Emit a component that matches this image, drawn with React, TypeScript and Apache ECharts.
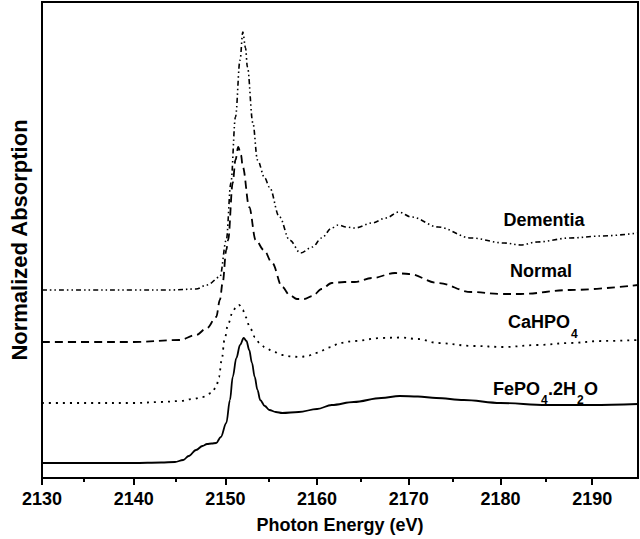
import React, { useEffect, useRef } from "react";
import * as echarts from "echarts";

// Photon energy (eV) / normalized absorption (stacked offsets)
const dementia: [number, number][] = [
  [2130, 1.88], [2135, 1.88], [2140, 1.88], [2144, 1.88], [2146.8, 1.89], [2148, 1.93],
  [2149.4, 2.01], [2150.1, 2.38], [2150.6, 2.95], [2151.1, 3.61], [2151.6, 4.18],
  [2151.9, 4.46], [2152.2, 4.3], [2152.4, 4.11], [2153.0, 3.55], [2153.5, 3.18],
  [2154.3, 3.0], [2154.8, 2.91], [2155.9, 2.61], [2157.0, 2.38], [2158.2, 2.25],
  [2159.5, 2.31], [2160.5, 2.4], [2161.6, 2.5], [2162.3, 2.53], [2163.2, 2.51],
  [2164.1, 2.5], [2166, 2.55], [2167.5, 2.6], [2168.9, 2.66], [2170.3, 2.61],
  [2173.2, 2.51], [2176.8, 2.4], [2180.4, 2.35], [2182.2, 2.33], [2184, 2.36],
  [2187.6, 2.4], [2191, 2.42], [2195, 2.45],
];

const normal: [number, number][] = [
  [2130, 1.36], [2135, 1.36], [2140, 1.36], [2145, 1.38], [2146.8, 1.43], [2148, 1.5],
  [2149.0, 1.61], [2149.4, 1.78], [2149.7, 1.95], [2150.1, 2.28], [2150.3, 2.38],
  [2150.8, 2.95], [2151.1, 3.18], [2151.4, 3.31], [2151.7, 3.23], [2151.9, 3.11],
  [2152.6, 2.71], [2153.3, 2.38], [2154.2, 2.28], [2155.1, 2.15], [2156.2, 1.91],
  [2157.0, 1.83], [2157.8, 1.79], [2158.6, 1.79], [2159.5, 1.82], [2160.5, 1.89],
  [2161.6, 1.95], [2163, 1.96], [2164.1, 1.96], [2166, 2.0], [2168.5, 2.05],
  [2170, 2.04], [2173.2, 1.95], [2176.8, 1.86], [2180, 1.84], [2182.2, 1.84],
  [2187.6, 1.88], [2195, 1.93],
];

const cahpo4: [number, number][] = [
  [2130, 0.75], [2135, 0.75], [2140, 0.75], [2143, 0.76], [2145, 0.77], [2146.5, 0.79],
  [2147.5, 0.81], [2148.5, 0.85], [2149.0, 0.91], [2149.3, 1.01], [2149.6, 1.18],
  [2149.9, 1.38], [2150.3, 1.54], [2150.8, 1.66], [2151.2, 1.72], [2151.5, 1.73],
  [2151.9, 1.68], [2152.2, 1.61], [2152.7, 1.5], [2153.2, 1.41], [2153.8, 1.34],
  [2154.4, 1.3], [2155.3, 1.26], [2156.2, 1.23], [2157.2, 1.215], [2158.1, 1.21],
  [2159, 1.22], [2159.8, 1.25], [2161.6, 1.31], [2162.4, 1.35], [2164, 1.37],
  [2167, 1.4], [2169, 1.405], [2171, 1.39], [2173.2, 1.35], [2177, 1.32],
  [2180.4, 1.31], [2184, 1.33], [2187.6, 1.35], [2191, 1.37], [2195, 1.38],
];

const fepo4: [number, number][] = [
  [2130, 0.15], [2135, 0.15], [2140, 0.15], [2143, 0.155], [2144.5, 0.16], [2145.4, 0.18],
  [2146, 0.22], [2146.8, 0.28], [2147.5, 0.32], [2148, 0.34], [2148.5, 0.345],
  [2149, 0.35], [2149.5, 0.41], [2150.1, 0.55], [2150.5, 0.78], [2150.8, 1.01],
  [2151.2, 1.2], [2151.6, 1.33], [2152.0, 1.4], [2152.3, 1.37], [2152.6, 1.28],
  [2152.9, 1.15], [2153.2, 1.01], [2153.5, 0.88], [2153.8, 0.78], [2154.3, 0.72],
  [2154.8, 0.68], [2155.5, 0.66], [2156.2, 0.65], [2158, 0.66], [2160, 0.69],
  [2161.6, 0.73], [2164, 0.76], [2167, 0.8], [2169, 0.82], [2171, 0.815],
  [2173, 0.8], [2176, 0.78], [2180, 0.75], [2185, 0.73], [2190, 0.73], [2195, 0.74],
];

const majorTicks = [2130, 2140, 2150, 2160, 2170, 2180, 2190];
const minorTicks = [2135, 2145, 2155, 2165, 2175, 2185];

const FONT = "'Liberation Sans', Arial, Helvetica, sans-serif";

export default function App() {
  const ref = useRef<HTMLDivElement>(null);

  useEffect(() => {
    if (!ref.current) return;
    const chart = echarts.init(ref.current, null, { renderer: "svg" });

    const lbl = (text: string, x: number, y: number, size = 18, align = "left") => ({
      type: "text",
      x,
      y,
      silent: true,
      style: {
        text,
        fill: "#000",
        font: `bold ${size}px ${FONT}`,
        align,
        verticalAlign: "middle",
      },
    });

    const mkSeries = (name: string, data: [number, number][], dash: any, width: number) => ({
      name,
      type: "line",
      data,
      xAxisIndex: 0,
      yAxisIndex: 0,
      showSymbol: false,
      symbol: "none",
      smooth: 0.35,
      smoothMonotone: "x",
      lineStyle: { color: "#000", width, type: dash, cap: "butt" },
    });

    const gridPos = { left: 37.5, right: 2, top: 2, bottom: 61 };

    chart.setOption({
      animation: false,
      backgroundColor: "#fff",
      grid: [
        {
          ...gridPos,
          show: true,
          borderColor: "#000",
          borderWidth: 2,
          backgroundColor: "transparent",
        },
        { ...gridPos, show: false },
      ],
      xAxis: [
        {
          type: "value",
          gridIndex: 0,
          min: 2130,
          max: 2195,
          interval: 10,
          position: "bottom",
          name: "Photon Energy (eV)",
          nameLocation: "middle",
          nameGap: 38,
          nameTextStyle: { color: "#000", fontSize: 18, fontWeight: "bold", fontFamily: FONT },
          axisLine: { show: true, lineStyle: { color: "#000", width: 2 } },
          axisTick: { show: true, length: 7, lineStyle: { color: "#000", width: 2 }, customValues: majorTicks },
          axisLabel: {
            color: "#000",
            fontSize: 18,
            fontWeight: "bold",
            fontFamily: FONT,
            margin: 12,
            customValues: majorTicks,
            formatter: (v: number) => String(v),
          },
          splitLine: { show: false },
        },
        {
          type: "value",
          gridIndex: 1,
          min: 2130,
          max: 2195,
          interval: 5,
          position: "bottom",
          axisLine: { show: false },
          axisTick: { show: true, length: 4, lineStyle: { color: "#000", width: 2 }, customValues: minorTicks },
          axisLabel: { show: false },
          splitLine: { show: false },
        },
      ],
      yAxis: [
        {
          type: "value",
          gridIndex: 0,
          min: 0,
          max: 4.76,
          name: "Normalized Absorption",
          nameLocation: "middle",
          nameGap: 12,
          nameTextStyle: { color: "#000", fontSize: 22, fontWeight: "bold", fontFamily: FONT },
          axisLine: { show: true, lineStyle: { color: "#000", width: 2 } },
          axisTick: { show: false },
          axisLabel: { show: false },
          splitLine: { show: false },
        },
        {
          type: "value",
          gridIndex: 1,
          min: 0,
          max: 1,
          show: false,
        },
      ],
      series: [
        mkSeries("Dementia", dementia, [5, 3, 1.5, 3, 1.5, 3], 1.6),
        mkSeries("Normal", normal, [8, 5], 1.8),
        mkSeries("CaHPO4", cahpo4, [2, 5], 1.8),
        mkSeries("FePO4.2H2O", fepo4, "solid", 1.8),
      ],
      graphic: [
        lbl("Dementia", 544, 220, 18, "center"),
        lbl("Normal", 541, 271, 18, "center"),
        lbl("CaHPO", 508, 322),
        lbl("4", 571, 334, 12),
        lbl("FePO", 493, 389),
        lbl("4", 541, 400, 12),
        lbl(".2H", 548, 389),
        lbl("2", 577, 400, 12),
        lbl("O", 584, 389),
      ],
    });

    return () => chart.dispose();
  }, []);

  return (
    <div
      ref={ref}
      style={{ position: "fixed", left: 0, top: 0, width: 640, height: 539, background: "#fff" }}
    />
  );
}
